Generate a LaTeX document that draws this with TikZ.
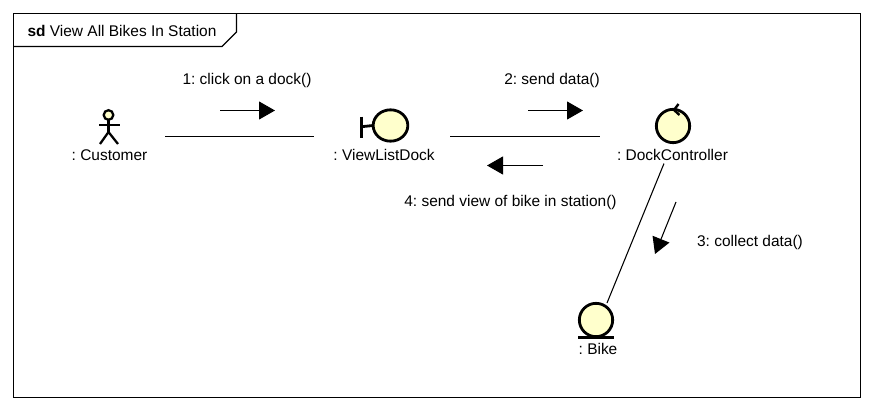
\documentclass[tikz,border=0pt]{standalone}
\usepackage{fontspec}
\setmainfont{Liberation Sans}
\usepackage{xcolor}
\usetikzlibrary{positioning,arrows.meta,shapes.geometric}
\definecolor{objfill}{HTML}{FFFFCC}
\frenchspacing
\tikzset{
objbox/.style={
inner sep=0pt,
outer sep=0pt
},
objtext/.style={
inner sep=0pt,
font=\fontsize{11.6pt}{13pt}\selectfont,
anchor=center
},
icon/.style={
ellipse,
draw,
line width=2.1pt,
fill=objfill,
inner sep=0pt,
outer sep=0pt
},
stroke/.style={
line width=2.1pt
},
link/.style={
line width=0.8pt
},
message/.style={
-{Triangle[length=12pt,width=13.5pt]},
line width=0.8pt
}
}

\begin{document}
\begin{tikzpicture}[x=0.75pt,y=-0.75pt]

\useasboundingbox (0,0) rectangle (873,410);

\fill[white] (0,0) rectangle (873,410);

\draw[line width=0.8pt] (13.5,13.5) rectangle (860.5,397.5);

\draw[line width=0.8pt] (13.5,46.5) -- (222,46.5) -- (236.5,32) -- (236.5,13.5);

\node[objtext] (title) at (122,31) {\textbf{sd} View All Bikes In Station};

\node[objbox,minimum width=85.5pt,minimum height=40pt] (customer) at (108,136.5) {};

\node[objbox,minimum width=102pt,minimum height=40pt] (view) at (382,136.5) {};

\node[objbox,minimum width=112.5pt,minimum height=40.5pt] (control) at (675,136.5) {};

\node[objbox,minimum width=60pt,minimum height=34.5pt] (bike) at (597.6,326) {};

\node[objtext] (customerlabel) at (109.5,155) {: Customer};

\node[objtext] (viewlabel) at (384,155) {: ViewListDock};

\node[objtext] (controllabel) at (672.5,155) {: DockController};

\node[objtext] (bikelabel) at (598,349) {: Bike};

\node[icon,line width=1.7pt,minimum width=7.2pt,minimum height=7.2pt] (head) at (108.5,115) {};

\coordinate (armleft) at (99,125);

\coordinate (armright) at (120,125);

\coordinate (hip) at (108.5,132);

\coordinate (legleft) at (100,144);

\coordinate (legright) at (118,144);

\draw[stroke,line width=1.7pt] (head.south)--(hip);

\draw[stroke,line width=1.7pt] (armleft)--(armright);

\draw[stroke,line width=1.7pt] (legleft)--(hip)--(legright);

\node[icon,minimum width=26pt,minimum height=23.5pt] (boundary) at (390.5,125.5) {};

\coordinate (bartop) at (361.5,116.5);

\coordinate (barbottom) at (361.5,137.5);

\draw[stroke] (bartop)--(barbottom);

\draw[stroke] (361.5,126.7)--(boundary.west);

\node[icon,minimum width=25pt,minimum height=25pt] (controlicon) at (673,126) {};

\coordinate (tickup) at (678.5,104);

\coordinate (tickdown) at (679.5,115);

\coordinate (ticktip) at (674,110);

\draw[stroke,line width=1.8pt] (tickup)--(ticktip)--(tickdown);

\node[icon,minimum width=25pt,minimum height=25pt] (entity) at (596,320) {};

\draw[stroke] (578,337.5)--(613.5,337.5);

\draw[link](customer)--(view);

\draw[link](view)--(control);

\draw[link](control)--(bike);

\coordinate (msgonefrom) at (220,110.5);

\coordinate (msgoneto) at (275,110.5);

\coordinate (msgtwofrom) at (528,110.5);

\coordinate (msgtwoto) at (583,110.5);

\coordinate (msgthreefrom) at (676,202);

\coordinate (msgthreeto) at (655,254);

\coordinate (msgfourfrom) at (543,165.5);

\coordinate (msgfourto) at (487,165.5);

\draw[message](msgonefrom)--(msgoneto);

\draw[message](msgtwofrom)--(msgtwoto);

\draw[message](msgthreefrom)--(msgthreeto);

\draw[message](msgfourfrom)--(msgfourto);

\node[objtext] (msgone) at (247,80) {1: click on a dock()};

\node[objtext] (msgtwo) at (552,80) {2: send data()};

\node[objtext] (msgthree) at (750,242) {3: collect data()};

\node[objtext] (msgfour) at (510.5,202) {4: send view of bike in station()};

\end{tikzpicture}
\end{document}
